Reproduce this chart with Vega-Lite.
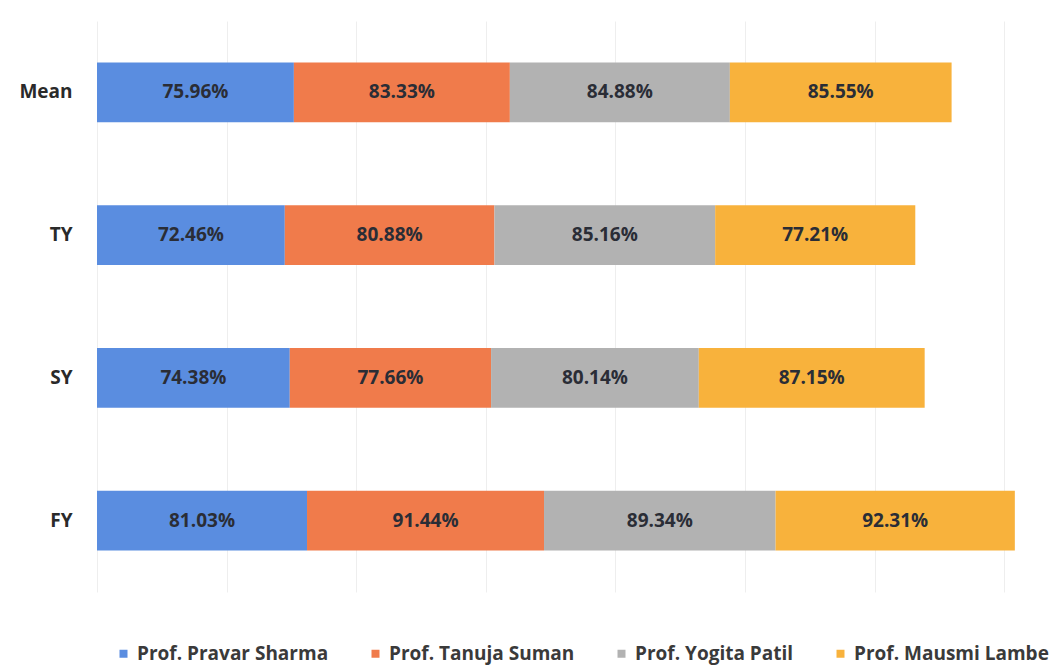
{
  "$schema": "https://vega.github.io/schema/vega-lite/v6.json",
  "width": 959,
  "height": 571,
  "autosize": {"type": "none"},
  "padding": {"left": 97, "top": 21, "right": 6, "bottom": 74},
  "background": "#ffffff",
  "config": {"view": {"stroke": null}},
  "data": {"values": [
    {"cls": "Mean", "prof": "Prof. Pravar Sharma", "k": 1, "v": 75.96},
    {"cls": "Mean", "prof": "Prof. Tanuja Suman", "k": 2, "v": 83.33},
    {"cls": "Mean", "prof": "Prof. Yogita Patil", "k": 3, "v": 84.88},
    {"cls": "Mean", "prof": "Prof. Mausmi Lambe", "k": 4, "v": 85.55},
    {"cls": "TY", "prof": "Prof. Pravar Sharma", "k": 1, "v": 72.46},
    {"cls": "TY", "prof": "Prof. Tanuja Suman", "k": 2, "v": 80.88},
    {"cls": "TY", "prof": "Prof. Yogita Patil", "k": 3, "v": 85.16},
    {"cls": "TY", "prof": "Prof. Mausmi Lambe", "k": 4, "v": 77.21},
    {"cls": "SY", "prof": "Prof. Pravar Sharma", "k": 1, "v": 74.38},
    {"cls": "SY", "prof": "Prof. Tanuja Suman", "k": 2, "v": 77.66},
    {"cls": "SY", "prof": "Prof. Yogita Patil", "k": 3, "v": 80.14},
    {"cls": "SY", "prof": "Prof. Mausmi Lambe", "k": 4, "v": 87.15},
    {"cls": "FY", "prof": "Prof. Pravar Sharma", "k": 1, "v": 81.03},
    {"cls": "FY", "prof": "Prof. Tanuja Suman", "k": 2, "v": 91.44},
    {"cls": "FY", "prof": "Prof. Yogita Patil", "k": 3, "v": 89.34},
    {"cls": "FY", "prof": "Prof. Mausmi Lambe", "k": 4, "v": 92.31}
  ]},
  "transform": [
    {"stack": "v", "groupby": ["cls"], "sort": [{"field": "k", "order": "ascending"}], "as": ["x0", "x1"]},
    {"calculate": "(datum.x0 + datum.x1) / 2", "as": "mid"},
    {"calculate": "format(datum.v, '.2f') + '%'", "as": "lab"}
  ],
  "encoding": {
    "y": {
      "field": "cls", "type": "nominal", "sort": ["Mean", "TY", "SY", "FY"],
      "scale": {"paddingInner": 0.58, "paddingOuter": 0.29},
      "axis": {"title": null, "domain": false, "ticks": false, "labelPadding": 25,
               "labelFont": "Open Sans", "labelFontSize": 19, "labelFontWeight": "bold", "labelColor": "#2a2a2a"}
    }
  },
  "layer": [
    {
      "mark": {"type": "bar"},
      "encoding": {
        "x": {"field": "x0", "type": "quantitative", "scale": {"domain": [0, 370], "nice": false},
              "axis": {"title": null, "labels": false, "ticks": false, "domain": false, "values": [0, 50, 100, 150, 200, 250, 300, 350],
                       "grid": true, "gridColor": "#eeeeee", "gridWidth": 1}},
        "x2": {"field": "x1"},
        "color": {
          "field": "prof", "type": "nominal",
          "scale": {"domain": ["Prof. Pravar Sharma", "Prof. Tanuja Suman", "Prof. Yogita Patil", "Prof. Mausmi Lambe"],
                    "range": ["#5a8de0", "#f07b4b", "#b2b2b2", "#f8b23c"]},
          "legend": {"title": null, "orient": "none", "direction": "horizontal", "legendX": 17, "legendY": 623,
                     "symbolType": "square", "symbolSize": 64, "symbolStrokeWidth": 0, "labelOffset": 4,
                     "labelFont": "Open Sans", "labelFontSize": 19, "labelFontWeight": "bold", "labelColor": "#3a3a3a",
                     "columnPadding": 37, "labelLimit": 400}
        }
      }
    },
    {
      "mark": {"type": "text", "font": "Open Sans", "fontSize": 19, "fontWeight": "bold", "color": "#2a2d36"},
      "encoding": {
        "x": {"field": "mid", "type": "quantitative"},
        "text": {"field": "lab"}
      }
    }
  ]
}
